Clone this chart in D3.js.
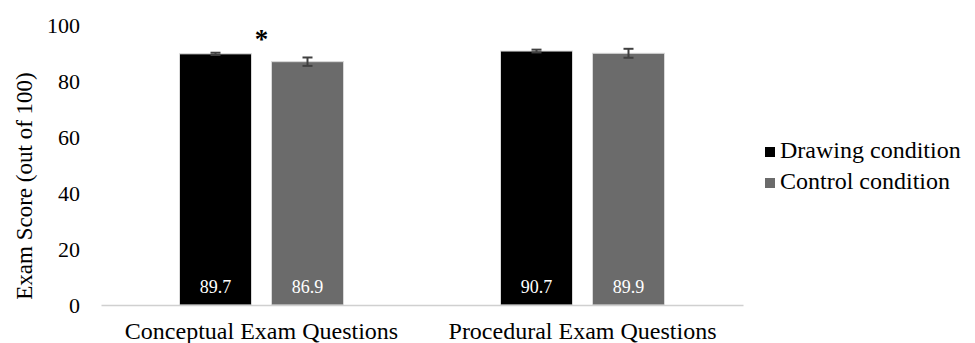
<!DOCTYPE html>
<html>
<head>
<meta charset="utf-8">
<script src="https://cdn.jsdelivr.net/npm/d3@7"></script>
</head>
<body style="margin:0;background:#fff">
<svg id="chart" width="975" height="343"></svg>
<script>
// Exam scores by question type and condition
const categories = ["Conceptual Exam Questions", "Procedural Exam Questions"];
const seriesNames = ["Drawing condition", "Control condition"];
const drawingScores = [89.7, 90.7];
const controlScores = [86.9, 89.9];
const drawingErrors = [0.4, 0.5];
const controlErrors = [1.5, 1.6];
const yTicks = [0, 20, 40, 60, 80, 100];
const significance = ["*", ""];

const colors = ["#000000", "#6b6b6b"];
const FONT = '"Liberation Serif", "Times New Roman", Times, serif';

const svg = d3.select("#chart");
const margin = { left: 101, right: 232, top: 25, bottom: 38 };
const W = 975, H = 343;

const x = d3.scaleBand()
  .domain(categories)
  .range([margin.left, W - margin.right])
  .paddingInner(0)
  .paddingOuter(0);

const y = d3.scaleLinear().domain([0, 100]).range([H - margin.bottom, margin.top]);

// Table of bars built from the series arrays
const rows = categories.map((c, i) => ({
  category: c,
  values: [
    { series: seriesNames[0], value: drawingScores[i], err: drawingErrors[i], color: colors[0] },
    { series: seriesNames[1], value: controlScores[i], err: controlErrors[i], color: colors[1] }
  ]
}));

// Y axis (labels only, no line)
const yAxis = d3.axisLeft(y).tickValues(yTicks).tickSize(0).tickPadding(0);
const gy = svg.append("g").attr("transform", `translate(${margin.left - 21},0)`).call(yAxis);
gy.select(".domain").remove();
gy.selectAll("text")
  .attr("fill", "#000")
  .style("font-family", FONT)
  .style("font-size", "22px");

// Y axis title
svg.append("text")
  .attr("transform", `translate(32,${(y(0) + y(100)) / 2 + 21}) rotate(-90)`)
  .attr("text-anchor", "middle")
  .style("font-family", FONT)
  .style("font-size", "23px")
  .text("Exam Score (out of 100)");

// Groups and bars
const groups = svg.selectAll("g.group").data(rows).join("g")
  .attr("class", "group")
  .attr("transform", d => `translate(${x(d.category)},0)`);

const bw = 72, gap = 20;
const offset = (x.bandwidth() - (2 * bw + gap)) / 2;
const barX = i => offset + i * (bw + gap);

groups.selectAll("rect.bar").data(d => d.values).join("rect")
  .attr("class", "bar")
  .attr("x", (d, i) => barX(i))
  .attr("width", bw)
  .attr("y", d => y(d.value))
  .attr("height", d => y(0) - y(d.value))
  .attr("fill", d => d.color)
  .attr("stroke", "#d9d9d9")
  .attr("stroke-width", 1);

// Error bars
const errG = groups.selectAll("g.err").data(d => d.values).join("g")
  .attr("class", "err")
  .attr("transform", (d, i) => `translate(${barX(i) + bw / 2},0)`);
errG.append("line")
  .attr("y1", d => y(d.value + d.err)).attr("y2", d => y(d.value - d.err))
  .attr("stroke", "#404040").attr("stroke-width", 2);
errG.append("line")
  .attr("x1", -5).attr("x2", 5)
  .attr("y1", d => y(d.value + d.err)).attr("y2", d => y(d.value + d.err))
  .attr("stroke", "#404040").attr("stroke-width", 2);
errG.append("line")
  .attr("x1", -5).attr("x2", 5)
  .attr("y1", d => y(d.value - d.err)).attr("y2", d => y(d.value - d.err))
  .attr("stroke", "#404040").attr("stroke-width", 2);

// Value labels inside bars
groups.selectAll("text.val").data(d => d.values).join("text")
  .attr("class", "val")
  .attr("x", (d, i) => barX(i) + bw / 2)
  .attr("y", y(0) - 12)
  .attr("text-anchor", "middle")
  .attr("fill", "#fff")
  .style("font-family", FONT)
  .style("font-size", "18px")
  .text(d => d.value.toFixed(1));

// Significance marker
groups.append("text")
  .attr("x", x.bandwidth() / 2)
  .attr("y", 48)
  .attr("text-anchor", "middle")
  .style("font-family", FONT)
  .style("font-size", "27px")
  .style("font-weight", "bold")
  .text((d, i) => significance[i]);

// Baseline and category labels
const xAxis = d3.axisBottom(x).tickSize(0).tickPadding(0);
const gx = svg.append("g").attr("transform", `translate(0,${y(0)})`).call(xAxis);
gx.select(".domain").attr("stroke", "#d0d0d0").attr("stroke-width", 1.5);
gx.selectAll("text")
  .attr("fill", "#000")
  .attr("dy", null)
  .attr("y", 34)
  .style("font-family", FONT)
  .style("font-size", "24px");

// Legend
const legend = svg.append("g").attr("transform", "translate(765,0)");
const legendItems = legend.selectAll("g").data(seriesNames).join("g")
  .attr("transform", (d, i) => `translate(0,${158 + i * 31})`);
legendItems.append("rect")
  .attr("x", 0).attr("y", -11).attr("width", 10).attr("height", 10)
  .attr("fill", (d, i) => colors[i]);
legendItems.append("text")
  .attr("x", 15).attr("y", 0)
  .style("font-family", FONT)
  .style("font-size", "24px")
  .text(d => d);
</script>
</body>
</html>
